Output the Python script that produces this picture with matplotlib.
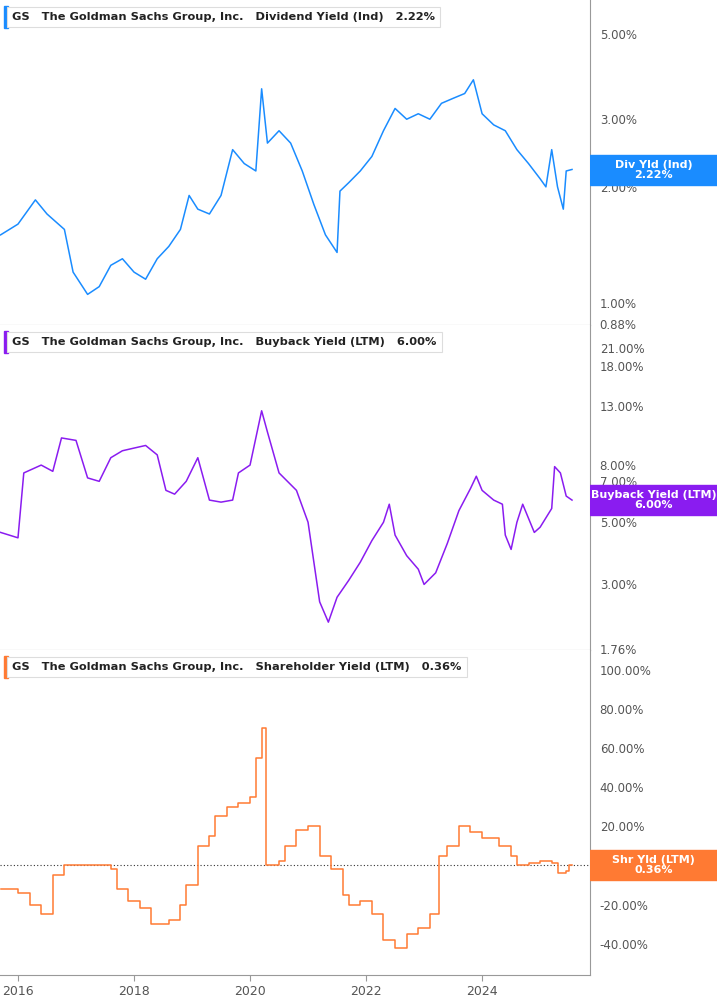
import matplotlib
matplotlib.use("Agg")
import matplotlib.pyplot as plt
from matplotlib.patches import Rectangle

div_t = [2015.7,2016.0,2016.3,2016.5,2016.8,2016.95,2017.2,2017.4,2017.6,2017.8,2018.0,2018.2,2018.4,2018.6,2018.8,2018.95,2019.1,2019.3,2019.5,2019.7,2019.9,2020.1,2020.2,2020.3,2020.5,2020.7,2020.9,2021.1,2021.3,2021.5,2021.55,2021.7,2021.9,2022.1,2022.3,2022.5,2022.7,2022.9,2023.1,2023.3,2023.5,2023.7,2023.85,2024.0,2024.2,2024.4,2024.6,2024.8,2025.0,2025.1,2025.2,2025.3,2025.4,2025.45,2025.55]
div_v = [1.5,1.6,1.85,1.7,1.55,1.2,1.05,1.1,1.25,1.3,1.2,1.15,1.3,1.4,1.55,1.9,1.75,1.7,1.9,2.5,2.3,2.2,3.6,2.6,2.8,2.6,2.2,1.8,1.5,1.35,1.95,2.05,2.2,2.4,2.8,3.2,3.0,3.1,3.0,3.3,3.4,3.5,3.8,3.1,2.9,2.8,2.5,2.3,2.1,2.0,2.5,2.0,1.75,2.2,2.22]

bb_t = [2015.7,2016.0,2016.1,2016.4,2016.6,2016.75,2017.0,2017.2,2017.4,2017.6,2017.8,2018.0,2018.2,2018.4,2018.55,2018.7,2018.9,2019.1,2019.3,2019.5,2019.7,2019.8,2020.0,2020.2,2020.3,2020.5,2020.8,2021.0,2021.2,2021.35,2021.5,2021.7,2021.9,2022.1,2022.3,2022.4,2022.5,2022.7,2022.9,2023.0,2023.2,2023.4,2023.6,2023.8,2023.9,2024.0,2024.2,2024.35,2024.4,2024.5,2024.6,2024.7,2024.9,2025.0,2025.2,2025.25,2025.35,2025.45,2025.55]
bb_v = [4.6,4.4,7.5,8.0,7.6,10.0,9.8,7.2,7.0,8.5,9.0,9.2,9.4,8.7,6.5,6.3,7.0,8.5,6.0,5.9,6.0,7.5,8.0,12.5,10.5,7.5,6.5,5.0,2.6,2.2,2.7,3.1,3.6,4.3,5.0,5.8,4.5,3.8,3.4,3.0,3.3,4.2,5.5,6.6,7.3,6.5,6.0,5.8,4.5,4.0,5.0,5.8,4.6,4.8,5.6,7.9,7.5,6.2,6.0]

sh_t = [2015.7,2016.0,2016.2,2016.4,2016.6,2016.8,2017.6,2017.7,2017.9,2018.1,2018.3,2018.6,2018.8,2018.9,2019.1,2019.3,2019.4,2019.6,2019.8,2020.0,2020.1,2020.2,2020.28,2020.5,2020.6,2020.8,2021.0,2021.2,2021.4,2021.6,2021.7,2021.9,2022.1,2022.3,2022.5,2022.7,2022.9,2023.1,2023.25,2023.4,2023.6,2023.8,2024.0,2024.3,2024.5,2024.6,2024.8,2025.0,2025.2,2025.3,2025.45,2025.5,2025.55]
sh_v = [-12,-14,-20,-25,-5,0,-2,-12,-18,-22,-30,-28,-20,-10,10,15,25,30,32,35,55,70,0,2,10,18,20,5,-2,-15,-20,-18,-25,-38,-42,-35,-32,-25,5,10,20,17,14,10,5,0,1,2,1,-4,-3,0.4,0.36]

year_ticks = [2016, 2018, 2020, 2022, 2024]

W, H = 717, 1005
fig = plt.figure(figsize=(7.17, 10.05), dpi=100)
PW = 590 / W
GRAY = "#555555"
XL = (2015.69, 2025.86)
badges = []

def panel(top, bottom, color, t, v, ticks, ticklabels, ylim, log, name, val, badge, badge_y, steps=False):
    ax = fig.add_axes([0, 1 - bottom / H, PW, (bottom - top) / H])
    if steps:
        ax.step(t, v, where="post", color=color, lw=1.1)
    else:
        ax.plot(t, v, color=color, lw=1.1)
    if log:
        ax.set_yscale("log")
    ax.set_ylim(*ylim)
    ax.set_xlim(*XL)
    ax.yaxis.tick_right()
    ax.set_yticks(ticks)
    ax.set_yticklabels(ticklabels)
    ax.minorticks_off()
    ax.tick_params(axis="y", length=0, labelsize=8.5, labelcolor=GRAY, pad=7)
    ax.set_xticks([])
    for s in ["top", "left"]:
        ax.spines[s].set_visible(False)
    ax.spines["right"].set_color("#999999")
    ax.spines["bottom"].set_color("#999999")
    fig.patches.append(Rectangle((4 / W, 1 - (top + 28) / H), 4 / W, 22 / H, transform=fig.transFigure, color=color))
    fig.text(12 / W, 1 - (top + 17) / H, f"GS   The Goldman Sachs Group, Inc.   {name}   {val}",
             fontsize=8.2, fontweight="bold", color="#222222", va="center",
             bbox=dict(boxstyle="square,pad=0.45", fc="white", ec="#dddddd", lw=0.8))
    badges.append((color, badge, val, badge_y))
    return ax

panel(0, 325, "#1a8cff", div_t, div_v, [0.88, 1, 2, 3, 5], ["0.88%", "1.00%", "2.00%", "3.00%", "5.00%"],
      (0.874, 6.13), True, "Dividend Yield (Ind)", "2.22%", "Div Yld (Ind)", 170)
panel(325, 650, "#8a1cf0", bb_t, bb_v, [1.76, 3, 5, 7, 8, 13, 18, 21],
      ["1.76%", "3.00%", "5.00%", "7.00%", "8.00%", "13.00%", "18.00%", "21.00%"],
      (1.75, 25.3), True, "Buyback Yield (LTM)", "6.00%", "Buyback Yield (LTM)", 500)
ax3 = panel(650, 975, "#ff7a33", sh_t, sh_v, [-40, -20, 0, 20, 40, 60, 80, 100],
            ["-40.00%", "-20.00%", "0.00%", "20.00%", "40.00%", "60.00%", "80.00%", "100.00%"],
            (-56, 110), False, "Shareholder Yield (LTM)", "0.36%", "Shr Yld (LTM)", 865, steps=True)
ax3.axhline(0, color="#333333", lw=0.8, ls=(0, (1, 2)), zorder=0)
ov = fig.add_axes([PW, 1 - 865 / H, 1 - PW, 0.001])
ov.axis("off")
ov.axhline(0, color="#333333", lw=0.8, ls=(0, (1, 2)))
ax3.set_xticks(year_ticks)
ax3.set_xticklabels([str(y) for y in year_ticks])
ax3.tick_params(axis="x", length=4, labelsize=9, labelcolor=GRAY, color="#999999")

bax = fig.add_axes([PW, 0, 1 - PW, 1])
bax.set_xlim(0, 1); bax.set_ylim(H, 0); bax.axis("off")
for color, badge, val, by in badges:
    bax.add_patch(Rectangle((0, by - 15), 1, 30, color=color))
    bax.text(0.5, by, f"{badge}\n{val}", fontsize=8, fontweight="bold",
             color="white", ha="center", va="center", linespacing=1.0)
fig.savefig("out.png", dpi=100, facecolor="white")
